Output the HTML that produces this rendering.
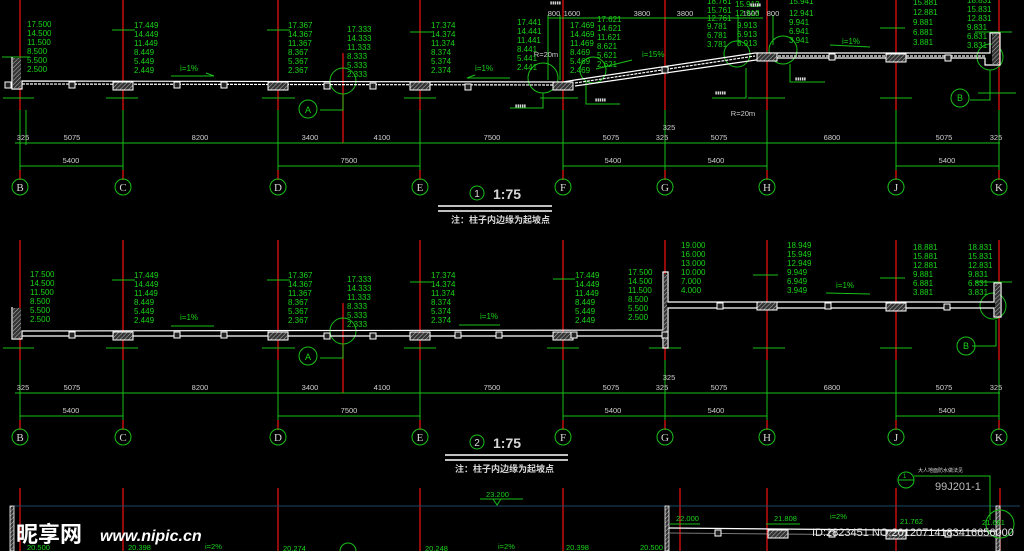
<!DOCTYPE html>
<html><head><meta charset="utf-8"><style>
html,body{margin:0;padding:0;background:#000;width:1024px;height:551px;overflow:hidden}
svg{display:block}
.g{fill:#19d419;font-family:"Liberation Sans Narrow","Liberation Sans",sans-serif;font-size:8px}
.w{fill:#d8d8d8;font-family:"Liberation Sans",sans-serif;font-size:8px}
.ax{fill:none;stroke:#19c019;stroke-width:1}
</style></head><body>
<svg width="1024" height="551" viewBox="0 0 1024 551" xmlns="http://www.w3.org/2000/svg">
<defs>
<pattern id="h" width="3" height="3" patternUnits="userSpaceOnUse" patternTransform="rotate(45)"><rect width="3" height="3" fill="#333"/><line x1="0" y1="0" x2="0" y2="3" stroke="#bbb" stroke-width="1"/></pattern>
<g id="cb"><rect x="-10" y="0" width="20" height="8" fill="url(#h)" stroke="#fff" stroke-width="1"/></g>
<g id="sb"><rect x="-3" y="0" width="6" height="6" fill="#222" stroke="#fff" stroke-width="1"/></g>
<g id="tick"><line x1="-4" y1="4" x2="4" y2="-4" stroke="#19d419" stroke-width="1"/></g>
</defs>

<!-- ===== Section 1 ===== -->
<g stroke="#e01010" stroke-width="1.3">
<line x1="20" y1="0" x2="20" y2="110"/><line x1="123" y1="0" x2="123" y2="110"/><line x1="278" y1="0" x2="278" y2="110"/><line x1="420" y1="0" x2="420" y2="110"/><line x1="563" y1="0" x2="563" y2="110"/><line x1="665" y1="0" x2="665" y2="110"/><line x1="767" y1="0" x2="767" y2="110"/><line x1="896" y1="0" x2="896" y2="110"/><line x1="999" y1="0" x2="999" y2="110"/>
<line x1="20" y1="170" x2="20" y2="180"/><line x1="123" y1="170" x2="123" y2="180"/><line x1="278" y1="170" x2="278" y2="180"/><line x1="420" y1="170" x2="420" y2="180"/><line x1="563" y1="170" x2="563" y2="180"/><line x1="665" y1="170" x2="665" y2="180"/><line x1="767" y1="170" x2="767" y2="180"/><line x1="896" y1="170" x2="896" y2="180"/><line x1="999" y1="170" x2="999" y2="180"/>
<line x1="343" y1="53" x2="343" y2="143"/>
</g>
<g stroke="#19c019" stroke-width="1">
<line x1="20" y1="110" x2="20" y2="170"/><line x1="123" y1="110" x2="123" y2="170"/><line x1="278" y1="110" x2="278" y2="170"/><line x1="420" y1="110" x2="420" y2="170"/><line x1="563" y1="110" x2="563" y2="170"/><line x1="665" y1="110" x2="665" y2="170"/><line x1="767" y1="110" x2="767" y2="170"/><line x1="896" y1="110" x2="896" y2="170"/><line x1="999" y1="110" x2="999" y2="170"/>
<line x1="26" y1="110" x2="26" y2="145"/>
<line x1="15" y1="143" x2="1000" y2="143"/>
<line x1="20" y1="166" x2="123" y2="166"/><line x1="278" y1="166" x2="420" y2="166"/><line x1="563" y1="166" x2="767" y2="166"/><line x1="896" y1="166" x2="999" y2="166"/>
<!-- level lines -->
<line x1="2" y1="57" x2="30" y2="57"/><line x1="3" y1="98" x2="34" y2="98"/>
<line x1="112" y1="30" x2="135" y2="30"/><line x1="106" y1="98" x2="138" y2="98"/>
<line x1="267" y1="30" x2="290" y2="30"/><line x1="262" y1="98" x2="295" y2="98"/>
<line x1="410" y1="32" x2="432" y2="32"/><line x1="404" y1="98" x2="436" y2="98"/>
<line x1="540" y1="98" x2="578" y2="98"/><line x1="748" y1="98" x2="785" y2="98"/>
<line x1="880" y1="28" x2="905" y2="28"/><line x1="880" y1="98" x2="912" y2="98"/>
<line x1="975" y1="32" x2="1012" y2="32"/><line x1="978" y1="93" x2="1016" y2="93"/>
<!-- slope arrows -->
<line x1="171" y1="76" x2="214" y2="76"/><polyline points="206,73 214,76" fill="none"/>
<line x1="467" y1="78" x2="510" y2="78"/><polyline points="475,75 467,78" fill="none"/>
<line x1="830" y1="45" x2="870" y2="47"/><line x1="632" y1="60" x2="596" y2="69"/>
<!-- detail circles -->
<circle cx="343" cy="81" r="13" fill="none"/><polyline points="343,95 343,110 320,110" fill="none"/>
<circle cx="308" cy="109" r="9" fill="none"/>
<circle cx="543" cy="78" r="15" fill="none"/><circle cx="593" cy="70" r="13" fill="none"/>
<circle cx="737" cy="54" r="13" fill="none"/><circle cx="783" cy="50" r="14" fill="none"/>
<circle cx="990" cy="57" r="13" fill="none"/><polyline points="990,70 990,100 970,100" fill="none"/>
<circle cx="960" cy="98" r="9" fill="none"/>
<polyline points="543,93 543,108 510,108" fill="none"/>
<polyline points="586,82 586,104 620,104" fill="none"/>
<polyline points="746,68 746,98 712,98" fill="none"/>
<polyline points="790,64 790,82 825,82" fill="none"/>
<!-- ramp dims -->
<line x1="548" y1="18" x2="763" y2="18"/><line x1="548" y1="15" x2="548" y2="80"/><line x1="560" y1="15" x2="560" y2="80"/><line x1="738" y1="15" x2="738" y2="45"/><line x1="773" y1="15" x2="773" y2="45"/>
</g>
<g stroke="#19c019" stroke-width="1" fill="none">
<circle cx="20" cy="187" r="8"/><circle cx="123" cy="187" r="8"/><circle cx="278" cy="187" r="8"/><circle cx="420" cy="187" r="8"/><circle cx="563" cy="187" r="8"/><circle cx="665" cy="187" r="8"/><circle cx="767" cy="187" r="8"/><circle cx="896" cy="187" r="8"/><circle cx="999" cy="187" r="8"/>
</g>
<g class="w" text-anchor="middle" font-family="Liberation Serif" style="font-family:'Liberation Serif',serif;font-size:11px">
<text x="20" y="191">B</text><text x="123" y="191">C</text><text x="278" y="191">D</text><text x="420" y="191">E</text><text x="563" y="191">F</text><text x="665" y="191">G</text><text x="767" y="191">H</text><text x="896" y="191">J</text><text x="999" y="191">K</text>
</g>
<text class="w" x="308" y="113" text-anchor="middle" style="font-size:9px;fill:#19d419">A</text>
<text class="w" x="960" y="101" text-anchor="middle" style="font-size:9px;fill:#19d419">B</text>
<g class="w" text-anchor="middle" style="font-size:7.5px;fill:#cfcfcf">
<text x="23" y="140">325</text><text x="72" y="140">5075</text><text x="200" y="140">8200</text><text x="310" y="140">3400</text><text x="382" y="140">4100</text><text x="492" y="140">7500</text><text x="611" y="140">5075</text><text x="662" y="140">325</text><text x="719" y="140">5075</text><text x="832" y="140">6800</text><text x="944" y="140">5075</text><text x="996" y="140">325</text>
<text x="669" y="130">325</text>
<text x="71" y="163">5400</text><text x="349" y="163">7500</text><text x="613" y="163">5400</text><text x="716" y="163">5400</text><text x="947" y="163">5400</text>
<text x="554" y="16">800</text><text x="572" y="16">1600</text><text x="642" y="16">3800</text><text x="685" y="16">3800</text><text x="751" y="16">1600</text><text x="773" y="16">800</text>
<text x="546" y="57">R=20m</text><text x="743" y="116">R=20m</text>
</g>
<!-- slab 1 -->
<g stroke="#fff" fill="none" stroke-width="1.2">
<polyline points="12,57 12,89 22,89 22,81 563,82 575,80 755,53 990,53 990,33 1000,33 1000,65 985,65 985,58 770,58 575,86"/>
<line x1="22" y1="84" x2="563" y2="85" stroke-dasharray="3,1"/>
<line x1="575" y1="83" x2="755" y2="56" stroke-dasharray="3,1"/>
<line x1="770" y1="56" x2="985" y2="56" stroke-dasharray="3,1"/>
</g>
<rect x="13" y="58" width="8" height="30" fill="url(#h)"/>
<rect x="992" y="34" width="7" height="30" fill="url(#h)"/>
<use href="#cb" x="123" y="82"/><use href="#cb" x="278" y="82"/><use href="#cb" x="420" y="82"/><use href="#cb" x="563" y="82"/><use href="#cb" x="767" y="53"/><use href="#cb" x="896" y="54"/>
<use href="#sb" x="72" y="82"/><use href="#sb" x="177" y="82"/><use href="#sb" x="224" y="82"/><use href="#sb" x="327" y="83"/><use href="#sb" x="373" y="83"/><use href="#sb" x="468" y="84"/><use href="#sb" x="665" y="67"/><use href="#sb" x="832" y="54"/><use href="#sb" x="948" y="55"/><use href="#sb" x="8" y="82"/>
<g class="g">
<text x="27" y="27" style="font-size:8px">17.500</text><text x="27" y="36">14.500</text><text x="27" y="45">11.500</text><text x="27" y="54">8.500</text><text x="27" y="63">5.500</text><text x="27" y="72">2.500</text>
<text x="134" y="28">17.449</text><text x="134" y="37">14.449</text><text x="134" y="46">11.449</text><text x="134" y="55">8.449</text><text x="134" y="64">5.449</text><text x="134" y="73">2.449</text>
<text x="288" y="28">17.367</text><text x="288" y="37">14.367</text><text x="288" y="46">11.367</text><text x="288" y="55">8.367</text><text x="288" y="64">5.367</text><text x="288" y="73">2.367</text>
<text x="347" y="32">17.333</text><text x="347" y="41">14.333</text><text x="347" y="50">11.333</text><text x="347" y="59">8.333</text><text x="347" y="68">5.333</text><text x="347" y="77">2.333</text>
<text x="431" y="28">17.374</text><text x="431" y="37">14.374</text><text x="431" y="46">11.374</text><text x="431" y="55">8.374</text><text x="431" y="64">5.374</text><text x="431" y="73">2.374</text>
<text x="517" y="25">17.441</text><text x="517" y="34">14.441</text><text x="517" y="43">11.441</text><text x="517" y="52">8.441</text><text x="517" y="61">5.441</text><text x="517" y="70">2.441</text>
<text x="570" y="28">17.469</text><text x="570" y="37">14.469</text><text x="570" y="46">11.469</text><text x="570" y="55">8.469</text><text x="570" y="64">5.469</text><text x="570" y="73">2.469</text>
<text x="597" y="22">17.621</text><text x="597" y="31">14.621</text><text x="597" y="40">11.621</text><text x="597" y="49">8.621</text><text x="597" y="58">5.621</text><text x="597" y="67">2.621</text>
<text x="707" y="4">18.761</text><text x="707" y="13">15.761</text><text x="707" y="21">12.761</text><text x="707" y="29">9.781</text><text x="707" y="38">6.781</text><text x="707" y="47">3.781</text>
<text x="735" y="7">15.913</text><text x="735" y="16">12.913</text><text x="737" y="28">9.913</text><text x="737" y="37">6.913</text><text x="737" y="46">3.913</text>
<text x="789" y="4">15.941</text><text x="789" y="16">12.941</text><text x="789" y="25">9.941</text><text x="789" y="34">6.941</text><text x="789" y="43">3.941</text>
<text x="913" y="5">15.881</text><text x="913" y="15">12.881</text><text x="913" y="25">9.881</text><text x="913" y="35">6.881</text><text x="913" y="45">3.881</text>
<text x="967" y="3">18.831</text><text x="967" y="12">15.831</text><text x="967" y="21">12.831</text><text x="967" y="30">9.831</text><text x="967" y="39">6.831</text><text x="967" y="48">3.831</text>
<text x="180" y="71">i=1%</text><text x="475" y="71">i=1%</text><text x="642" y="57">i=15%</text><text x="842" y="44">i=1%</text>
</g>
<g class="w" style="font-size:4px">
<text x="550" y="4">▮▮▮▮▮</text><text x="750" y="6">▮▮▮▮▮</text><text x="795" y="80">▮▮▮▮▮</text><text x="515" y="107">▮▮▮▮▮</text><text x="595" y="101">▮▮▮▮▮</text><text x="715" y="94">▮▮▮▮▮</text>
</g>
<circle cx="477" cy="193" r="7" fill="none" stroke="#19c019"/>
<text x="477" y="197" text-anchor="middle" class="w" style="font-size:10px">1</text>
<text x="493" y="199" class="w" style="font-size:14px;font-weight:bold">1:75</text>
<line x1="438" y1="206" x2="552" y2="206" stroke="#fff" stroke-width="1.5"/><line x1="438" y1="211" x2="552" y2="211" stroke="#fff" stroke-width="1.5"/>
<text x="451" y="223" class="w" style="font-family:'Liberation Sans','Noto Sans CJK SC',sans-serif;font-size:9px;font-weight:bold">注：柱子内边缘为起坡点</text>

<!-- ===== Section 2 ===== -->
<g stroke="#e01010" stroke-width="1.3">
<line x1="20" y1="240" x2="20" y2="360"/><line x1="123" y1="240" x2="123" y2="360"/><line x1="278" y1="240" x2="278" y2="360"/><line x1="420" y1="240" x2="420" y2="360"/><line x1="563" y1="240" x2="563" y2="360"/><line x1="665" y1="240" x2="665" y2="360"/><line x1="767" y1="240" x2="767" y2="360"/><line x1="896" y1="240" x2="896" y2="360"/><line x1="999" y1="240" x2="999" y2="360"/>
<line x1="20" y1="420" x2="20" y2="430"/><line x1="123" y1="420" x2="123" y2="430"/><line x1="278" y1="420" x2="278" y2="430"/><line x1="420" y1="420" x2="420" y2="430"/><line x1="563" y1="420" x2="563" y2="430"/><line x1="665" y1="420" x2="665" y2="430"/><line x1="767" y1="420" x2="767" y2="430"/><line x1="896" y1="420" x2="896" y2="430"/><line x1="999" y1="420" x2="999" y2="430"/>
<line x1="343" y1="303" x2="343" y2="393"/>
</g>
<g stroke="#19c019" stroke-width="1">
<line x1="20" y1="360" x2="20" y2="420"/><line x1="123" y1="360" x2="123" y2="420"/><line x1="278" y1="360" x2="278" y2="420"/><line x1="420" y1="360" x2="420" y2="420"/><line x1="563" y1="360" x2="563" y2="420"/><line x1="665" y1="360" x2="665" y2="420"/><line x1="767" y1="360" x2="767" y2="420"/><line x1="896" y1="360" x2="896" y2="420"/><line x1="999" y1="360" x2="999" y2="420"/>
<line x1="15" y1="393" x2="1000" y2="393"/>
<line x1="20" y1="416" x2="123" y2="416"/><line x1="278" y1="416" x2="420" y2="416"/><line x1="563" y1="416" x2="767" y2="416"/><line x1="896" y1="416" x2="999" y2="416"/>
<line x1="3" y1="348" x2="34" y2="348"/><line x1="106" y1="348" x2="138" y2="348"/><line x1="262" y1="348" x2="295" y2="348"/><line x1="404" y1="348" x2="436" y2="348"/><line x1="547" y1="348" x2="579" y2="348"/><line x1="649" y1="348" x2="681" y2="348"/><line x1="753" y1="348" x2="785" y2="348"/><line x1="880" y1="348" x2="912" y2="348"/>
<line x1="112" y1="280" x2="135" y2="280"/><line x1="267" y1="280" x2="290" y2="280"/><line x1="410" y1="282" x2="432" y2="282"/><line x1="553" y1="279" x2="575" y2="279"/><line x1="753" y1="275" x2="778" y2="275"/><line x1="880" y1="278" x2="905" y2="278"/><line x1="975" y1="282" x2="1012" y2="282"/>
<line x1="171" y1="326" x2="214" y2="326"/><line x1="459" y1="325" x2="500" y2="325"/><line x1="826" y1="293" x2="870" y2="294"/>
<circle cx="343" cy="331" r="13" fill="none"/><polyline points="343,345 343,358 320,358" fill="none"/>
<circle cx="308" cy="356" r="9" fill="none"/>
<circle cx="993" cy="306" r="13" fill="none"/><polyline points="996,320 996,346 972,346" fill="none"/>
<circle cx="966" cy="346" r="9" fill="none"/>
<circle cx="20" cy="437" r="8" fill="none"/><circle cx="123" cy="437" r="8" fill="none"/><circle cx="278" cy="437" r="8" fill="none"/><circle cx="420" cy="437" r="8" fill="none"/><circle cx="563" cy="437" r="8" fill="none"/><circle cx="665" cy="437" r="8" fill="none"/><circle cx="767" cy="437" r="8" fill="none"/><circle cx="896" cy="437" r="8" fill="none"/><circle cx="999" cy="437" r="8" fill="none"/>
</g>
<g class="w" text-anchor="middle" style="font-family:'Liberation Serif',serif;font-size:11px">
<text x="20" y="441">B</text><text x="123" y="441">C</text><text x="278" y="441">D</text><text x="420" y="441">E</text><text x="563" y="441">F</text><text x="665" y="441">G</text><text x="767" y="441">H</text><text x="896" y="441">J</text><text x="999" y="441">K</text>
</g>
<text class="w" x="308" y="360" text-anchor="middle" style="font-size:9px;fill:#19d419">A</text>
<text class="w" x="966" y="349" text-anchor="middle" style="font-size:9px;fill:#19d419">B</text>
<g class="w" text-anchor="middle" style="font-size:7.5px;fill:#cfcfcf">
<text x="23" y="390">325</text><text x="72" y="390">5075</text><text x="200" y="390">8200</text><text x="310" y="390">3400</text><text x="382" y="390">4100</text><text x="492" y="390">7500</text><text x="611" y="390">5075</text><text x="662" y="390">325</text><text x="719" y="390">5075</text><text x="832" y="390">6800</text><text x="944" y="390">5075</text><text x="996" y="390">325</text>
<text x="669" y="380">325</text>
<text x="71" y="413">5400</text><text x="349" y="413">7500</text><text x="613" y="413">5400</text><text x="716" y="413">5400</text><text x="947" y="413">5400</text>
</g>
<g stroke="#fff" fill="none" stroke-width="1.2">
<polyline points="12,307 12,339 22,339 22,331 663,330 663,272 668,272 668,302 994,302 994,283 1001,283 1001,317 994,317 994,308 668,308 668,348 663,348 663,336 22,336"/>
</g>
<rect x="13" y="308" width="8" height="30" fill="url(#h)"/>
<rect x="664" y="274" width="3" height="73" fill="url(#h)"/>
<rect x="995" y="284" width="5" height="32" fill="url(#h)"/>
<use href="#cb" x="123" y="332"/><use href="#cb" x="278" y="332"/><use href="#cb" x="420" y="332"/><use href="#cb" x="563" y="332"/><use href="#cb" x="767" y="302"/><use href="#cb" x="896" y="303"/>
<use href="#sb" x="72" y="332"/><use href="#sb" x="177" y="332"/><use href="#sb" x="224" y="332"/><use href="#sb" x="327" y="333"/><use href="#sb" x="373" y="333"/><use href="#sb" x="458" y="332"/><use href="#sb" x="499" y="332"/><use href="#sb" x="574" y="332"/><use href="#sb" x="665" y="332"/><use href="#sb" x="720" y="303"/><use href="#sb" x="828" y="303"/><use href="#sb" x="947" y="304"/>
<g class="g">
<text x="30" y="277">17.500</text><text x="30" y="286">14.500</text><text x="30" y="295">11.500</text><text x="30" y="304">8.500</text><text x="30" y="313">5.500</text><text x="30" y="322">2.500</text>
<text x="134" y="278">17.449</text><text x="134" y="287">14.449</text><text x="134" y="296">11.449</text><text x="134" y="305">8.449</text><text x="134" y="314">5.449</text><text x="134" y="323">2.449</text>
<text x="288" y="278">17.367</text><text x="288" y="287">14.367</text><text x="288" y="296">11.367</text><text x="288" y="305">8.367</text><text x="288" y="314">5.367</text><text x="288" y="323">2.367</text>
<text x="347" y="282">17.333</text><text x="347" y="291">14.333</text><text x="347" y="300">11.333</text><text x="347" y="309">8.333</text><text x="347" y="318">5.333</text><text x="347" y="327">2.333</text>
<text x="431" y="278">17.374</text><text x="431" y="287">14.374</text><text x="431" y="296">11.374</text><text x="431" y="305">8.374</text><text x="431" y="314">5.374</text><text x="431" y="323">2.374</text>
<text x="575" y="278">17.449</text><text x="575" y="287">14.449</text><text x="575" y="296">11.449</text><text x="575" y="305">8.449</text><text x="575" y="314">5.449</text><text x="575" y="323">2.449</text>
<text x="628" y="275">17.500</text><text x="628" y="284">14.500</text><text x="628" y="293">11.500</text><text x="628" y="302">8.500</text><text x="628" y="311">5.500</text><text x="628" y="320">2.500</text>
<text x="681" y="248">19.000</text><text x="681" y="257">16.000</text><text x="681" y="266">13.000</text><text x="681" y="275">10.000</text><text x="681" y="284">7.000</text><text x="681" y="293">4.000</text>
<text x="787" y="248">18.949</text><text x="787" y="257">15.949</text><text x="787" y="266">12.949</text><text x="787" y="275">9.949</text><text x="787" y="284">6.949</text><text x="787" y="293">3.949</text>
<text x="913" y="250">18.881</text><text x="913" y="259">15.881</text><text x="913" y="268">12.881</text><text x="913" y="277">9.881</text><text x="913" y="286">6.881</text><text x="913" y="295">3.881</text>
<text x="968" y="250">18.831</text><text x="968" y="259">15.831</text><text x="968" y="268">12.831</text><text x="968" y="277">9.831</text><text x="968" y="286">6.831</text><text x="968" y="295">3.831</text>
<text x="180" y="320">i=1%</text><text x="480" y="319">i=1%</text><text x="836" y="288">i=1%</text>
</g>
<circle cx="477" cy="442" r="7" fill="none" stroke="#19c019"/>
<text x="477" y="446" text-anchor="middle" class="w" style="font-size:10px">2</text>
<text x="493" y="448" class="w" style="font-size:14px;font-weight:bold">1:75</text>
<line x1="445" y1="455" x2="568" y2="455" stroke="#fff" stroke-width="1.5"/><line x1="445" y1="460" x2="568" y2="460" stroke="#fff" stroke-width="1.5"/>
<text x="455" y="472" class="w" style="font-family:'Liberation Sans','Noto Sans CJK SC',sans-serif;font-size:9px;font-weight:bold">注：柱子内边缘为起坡点</text>

<!-- ===== Section 3 (partial) ===== -->
<g stroke="#e01010" stroke-width="1.3">
<line x1="20" y1="488" x2="20" y2="551"/><line x1="123" y1="488" x2="123" y2="551"/><line x1="278" y1="488" x2="278" y2="551"/><line x1="420" y1="488" x2="420" y2="551"/><line x1="563" y1="488" x2="563" y2="551"/><line x1="680" y1="488" x2="680" y2="551"/><line x1="767" y1="488" x2="767" y2="551"/><line x1="896" y1="488" x2="896" y2="551"/><line x1="1000" y1="488" x2="1000" y2="551"/>
</g>
<line x1="14" y1="506" x2="1020" y2="506" stroke="#1a4a66" stroke-width="1"/>
<rect x="10" y="506" width="4" height="45" fill="url(#h)" stroke="#fff" stroke-width="0.8"/>
<rect x="665" y="506" width="4" height="45" fill="url(#h)" stroke="#fff" stroke-width="0.8"/>
<rect x="996" y="506" width="4" height="45" fill="url(#h)" stroke="#fff" stroke-width="0.8"/>
<polyline points="669,528 996,531" fill="none" stroke="#fff" stroke-width="1.2"/>
<polyline points="669,533 996,536" fill="none" stroke="#777" stroke-width="1"/>
<use href="#cb" x="778" y="530"/><use href="#cb" x="896" y="531"/><use href="#sb" x="718" y="530"/><use href="#sb" x="832" y="531"/><use href="#sb" x="948" y="531"/>
<g stroke="#19c019" fill="none">
<line x1="670" y1="524" x2="700" y2="524"/><line x1="766" y1="524" x2="800" y2="524"/><line x1="480" y1="499" x2="523" y2="499"/>
<polyline points="493,499 497,505 501,499"/>
<circle cx="906" cy="480" r="8"/><line x1="898" y1="480" x2="914" y2="480"/>
<polyline points="914,476 990,476 990,520"/>
<circle cx="1000" cy="524" r="14"/>
<circle cx="348" cy="551" r="8"/>
</g>
<g class="g" style="font-size:7.5px">
<text x="486" y="497">23.200</text><text x="676" y="521">22.000</text><text x="774" y="521">21.808</text><text x="830" y="519">i=2%</text><text x="900" y="524">21.762</text><text x="982" y="525">21.681</text>
<text x="27" y="550">20.500</text><text x="128" y="550">20.398</text><text x="205" y="549">i=2%</text><text x="283" y="551">20.274</text><text x="425" y="551">20.248</text><text x="498" y="549">i=2%</text><text x="566" y="550">20.398</text><text x="640" y="550">20.500</text>
</g>
<text x="903" y="478" class="g" style="font-size:6px">1</text>
<text x="918" y="472" class="w" style="font-family:'Liberation Sans','Noto Sans CJK SC',sans-serif;font-size:5px">大人地面防水做法见</text>
<text x="935" y="490" class="w" style="font-size:11px;fill:#bbb">99J201-1</text>
<text x="812" y="536" class="w" style="font-size:11px;fill:#e8e8e8">ID:2823451 NO:20120714183416656000</text>
<text x="16" y="542" style="font-family:'Liberation Sans','Noto Sans CJK SC',sans-serif;font-size:22px;font-weight:bold;fill:#fff">昵享网</text>
<text x="100" y="541" style="font-family:'Liberation Sans',sans-serif;font-size:16px;font-weight:bold;font-style:italic;fill:#fff">www.nipic.cn</text>
</svg>
</body></html>
